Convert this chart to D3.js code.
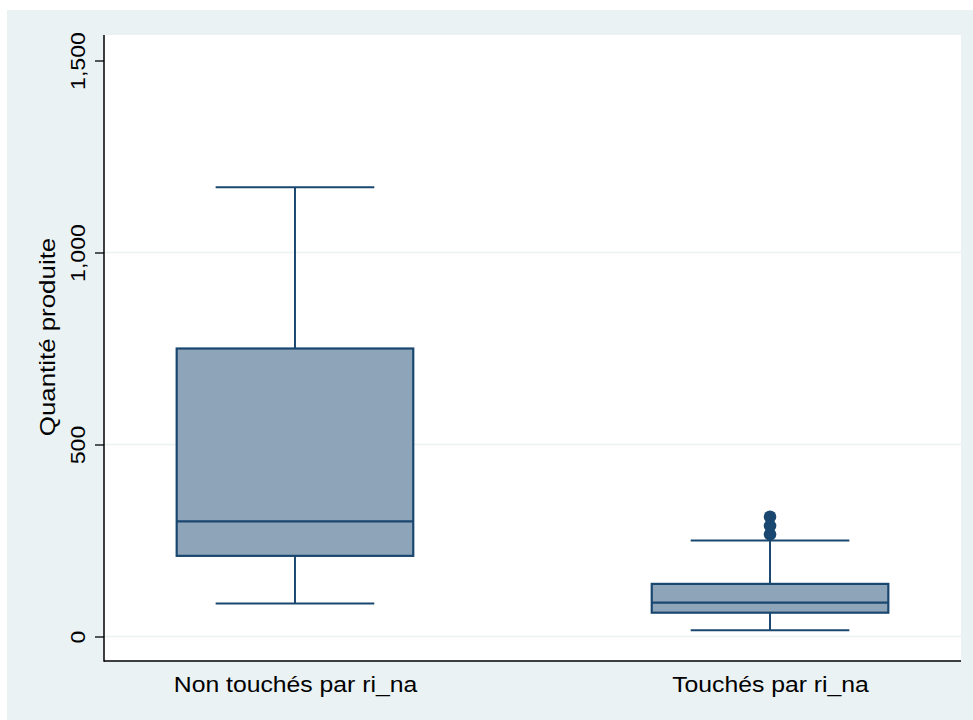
<!DOCTYPE html>
<html><head><meta charset="utf-8">
<script src="https://cdn.jsdelivr.net/npm/d3@7/dist/d3.min.js"></script>
<style>html,body{margin:0;padding:0;background:#fff;}</style>
</head><body>
<svg id="c" width="973" height="720"></svg>
<script>
const categories = ["Non touchés par ri_na", "Touchés par ri_na"];
const lowerWhisker = [86, 16];
const q1 = [210, 62];
const median = [300, 88];
const q3 = [750, 137];
const upperWhisker = [1170, 250];
const outliers = [[], [266, 288, 312]];
const yTicks = [0, 500, 1000, 1500];
const gridTicks = [0, 500, 1000];

const navy = "#1a476f", fill = "#8ea4b8", bg = "#eaf2f3";
const svg = d3.select("#c");
const L = 104, R = 961, T = 35, B = 661;
svg.append("rect").attr("x",7).attr("y",10).attr("width",966).attr("height",710).attr("fill",bg);
svg.append("rect").attr("x",L).attr("y",T).attr("width",R-L).attr("height",B-T).attr("fill","#fff");

const y = d3.scaleLinear().domain([0,1500]).range([636.5,60.5]);
const x = d3.scalePoint().domain(categories).range([L,R]).padding(0.402);
const step = x.step();
const boxW = step*0.498, capW = step*0.334;

svg.append("g").selectAll("line").data(gridTicks).join("line")
  .attr("x1",L).attr("x2",R).attr("y1",d=>y(d)).attr("y2",d=>y(d))
  .attr("stroke",bg).attr("stroke-width",1.5);

const font = "'Liberation Sans', Arial, sans-serif";
const yAxis = d3.axisLeft(y).tickValues(yTicks).tickSize(9).tickFormat(d3.format(","));
const ga = svg.append("g").attr("transform",`translate(${L},0)`).call(yAxis);
ga.select(".domain").remove();
ga.selectAll(".tick line").attr("stroke","#000").attr("stroke-width",1.3);
ga.selectAll(".tick text").attr("x",null).attr("dy",null).attr("text-anchor","middle")
  .attr("font-family",font).attr("font-size",21).attr("fill","#000")
  .attr("transform","translate(-19,0) rotate(-90) scale(1.1,1)");
svg.append("line").attr("x1",L).attr("x2",L).attr("y1",T).attr("y2",B+0.75).attr("stroke","#000").attr("stroke-width",1.5);
svg.append("line").attr("x1",L).attr("x2",R).attr("y1",B).attr("y2",B).attr("stroke","#000").attr("stroke-width",1.5);

const xAxis = d3.axisBottom(x).tickSize(0).tickPadding(0);
const gx = svg.append("g").attr("transform",`translate(0,${B})`).call(xAxis);
gx.select(".domain").remove();
gx.selectAll(".tick text").attr("y",null).attr("dy",null)
  .attr("font-family",font).attr("font-size",22.5).attr("fill","#000")
  .attr("transform","translate(0,31) scale(1.1,1)");

svg.append("text").attr("transform",`translate(55,337) rotate(-90) scale(1.15,1)`)
  .attr("text-anchor","middle").attr("font-family",font).attr("font-size",22.5).attr("fill","#000")
  .text("Quantité produite");

const g = svg.append("g");
categories.forEach((c,i)=>{
  const cx = x(c);
  g.append("line").attr("x1",cx).attr("x2",cx).attr("y1",y(upperWhisker[i])).attr("y2",y(q3[i])).attr("stroke",navy).attr("stroke-width",2);
  g.append("line").attr("x1",cx).attr("x2",cx).attr("y1",y(q1[i])).attr("y2",y(lowerWhisker[i])).attr("stroke",navy).attr("stroke-width",2);
  [upperWhisker[i], lowerWhisker[i]].forEach(v=>{
    g.append("line").attr("x1",cx-capW/2).attr("x2",cx+capW/2).attr("y1",y(v)).attr("y2",y(v)).attr("stroke",navy).attr("stroke-width",2);
  });
  g.append("rect").attr("x",cx-boxW/2).attr("width",boxW).attr("y",y(q3[i])).attr("height",y(q1[i])-y(q3[i]))
    .attr("fill",fill).attr("stroke",navy).attr("stroke-width",2.2);
  g.append("line").attr("x1",cx-boxW/2).attr("x2",cx+boxW/2).attr("y1",y(median[i])).attr("y2",y(median[i])).attr("stroke",navy).attr("stroke-width",2.2);
  g.selectAll(null).data(outliers[i]).join("circle").attr("cx",cx).attr("cy",d=>y(d)).attr("r",6.3).attr("fill",navy);
});
</script>
</body></html>
